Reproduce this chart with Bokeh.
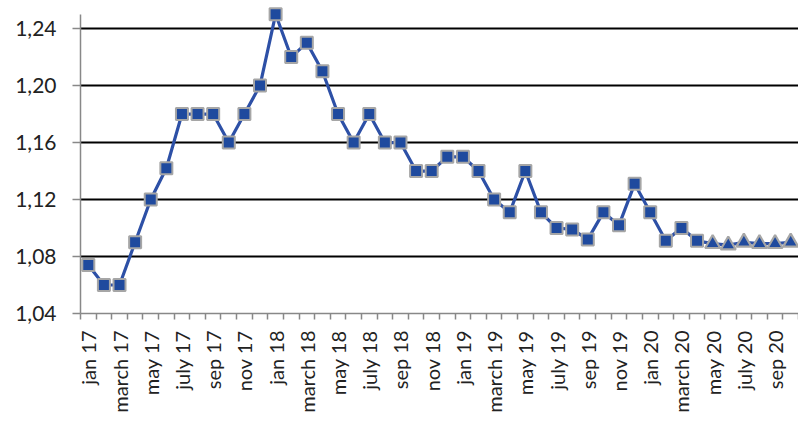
import math
from bokeh.plotting import figure
from bokeh.models import FixedTicker, CustomJSTickFormatter
from bokeh.embed import file_html
from bokeh.resources import INLINE

# ---- data ----
months = [
    "jan 17", "feb 17", "march 17", "april 17", "may 17", "june 17", "july 17", "aug 17",
    "sep 17", "oct 17", "nov 17", "dec 17",
    "jan 18", "feb 18", "march 18", "april 18", "may 18", "june 18", "july 18", "aug 18",
    "sep 18", "oct 18", "nov 18", "dec 18",
    "jan 19", "feb 19", "march 19", "april 19", "may 19", "june 19", "july 19", "aug 19",
    "sep 19", "oct 19", "nov 19", "dec 19",
    "jan 20", "feb 20", "march 20", "april 20", "may 20", "june 20", "july 20", "aug 20",
    "sep 20", "oct 20",
]
actual = [
    1.074, 1.060, 1.060, 1.090, 1.120, 1.142, 1.180, 1.180, 1.180, 1.160, 1.180, 1.200,
    1.250, 1.220, 1.230, 1.210, 1.180, 1.160, 1.180, 1.160, 1.160, 1.140, 1.140, 1.150,
    1.150, 1.140, 1.120, 1.111, 1.140, 1.111, 1.100, 1.099, 1.092, 1.111, 1.102, 1.131,
    1.111, 1.091, 1.100, 1.091,
]
forecast = [1.089, 1.088, 1.090, 1.089, 1.089, 1.090]
y_ticks = [1.04, 1.08, 1.12, 1.16, 1.20, 1.24]

FONT = "Lato"
TEXT_COLOR = "#222222"
AXIS_COLOR = "#888888"
LINE_COLOR = "#2D50A6"
FILL_COLOR = "#1F4A9E"
EDGE_COLOR = "#A6A6A6"

n_act = len(actual)
all_vals = actual + forecast
x_all = list(range(len(all_vals)))

p = figure(
    width=798, height=425,
    x_range=(-0.5, len(months) - 0.5), y_range=(1.04, 1.2597),
    output_backend="svg", toolbar_location=None,
    min_border_left=80, min_border_right=0, min_border_top=0, min_border_bottom=112,
)
p.outline_line_color = None
p.background_fill_color = "white"
p.border_fill_color = "white"

# grid
p.xgrid.visible = False
p.ygrid.ticker = FixedTicker(ticks=y_ticks[1:])
p.ygrid.grid_line_color = "black"
p.ygrid.grid_line_width = 1.8

# series
p.line(x_all, all_vals, line_color=LINE_COLOR, line_width=3.2)
p.scatter(x_all[:n_act], actual, marker="square", size=12,
          fill_color=FILL_COLOR, line_color=EDGE_COLOR, line_width=2)
p.scatter(x_all[n_act:], forecast, marker="triangle", size=15,
          fill_color=FILL_COLOR, line_color=EDGE_COLOR, line_width=2.2)

# y axis
p.yaxis.ticker = FixedTicker(ticks=y_ticks)
p.yaxis.formatter = CustomJSTickFormatter(code="return tick.toFixed(2).replace('.', ',');")
p.yaxis.bounds = (1.04, 1.25)
p.yaxis.axis_line_color = AXIS_COLOR
p.yaxis.axis_line_width = 1.5
p.yaxis.major_tick_line_color = AXIS_COLOR
p.yaxis.major_tick_line_width = 1.5
p.yaxis.major_tick_out = 8
p.yaxis.major_tick_in = 0
p.yaxis.minor_tick_line_color = None
p.yaxis.major_label_standoff = 16
p.yaxis.major_label_text_font = FONT
p.yaxis.major_label_text_font_size = "21px"
p.yaxis.major_label_text_color = TEXT_COLOR

# x axis
p.xaxis.ticker = FixedTicker(ticks=list(range(0, len(months), 2)),
                             minor_ticks=[i - 0.5 for i in range(len(months) + 1)])
p.xaxis.formatter = CustomJSTickFormatter(args=dict(labels=months),
                                          code="const i = Math.round(tick); return labels[i] || '';")
p.xaxis.major_label_orientation = math.pi / 2
p.xaxis.axis_line_color = AXIS_COLOR
p.xaxis.axis_line_width = 1.5
p.xaxis.major_tick_line_color = None
p.xaxis.major_tick_out = 6
p.xaxis.major_tick_in = 0
p.xaxis.minor_tick_line_color = AXIS_COLOR
p.xaxis.minor_tick_line_width = 1.5
p.xaxis.minor_tick_out = 6
p.xaxis.minor_tick_in = 0
p.xaxis.major_label_standoff = 11
p.xaxis.major_label_text_font = FONT
p.xaxis.major_label_text_font_size = "20px"
p.xaxis.major_label_text_color = TEXT_COLOR

open("out.html", "w").write(file_html(p, INLINE))
